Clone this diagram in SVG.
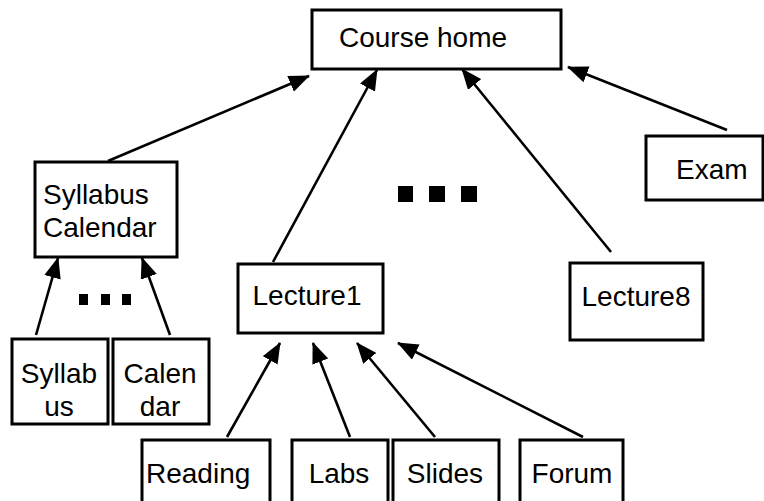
<svg xmlns="http://www.w3.org/2000/svg" width="764" height="501" viewBox="0 0 764 501">
<style>
.box{fill:#fff;stroke:#000;stroke-width:3}
.t{font-family:"Liberation Sans",Arial,sans-serif;font-size:28px;fill:#000}
.m{text-anchor:middle}
.c{stroke:#000;stroke-width:2.6;fill:none;marker-end:url(#ah)}
.dot{fill:#000}
</style>
<defs>
<marker id="ah" viewBox="0 0 21 17" refX="20" refY="8.5" markerWidth="21" markerHeight="17" markerUnits="userSpaceOnUse" orient="auto">
<path d="M0,0 L21,8.5 L0,17 z" fill="#000"/>
</marker>
</defs>
<rect width="764" height="501" fill="#fff"/>
<g id="connectors">
<line class="c" x1="108" y1="161" x2="309" y2="76"/>
<line class="c" x1="273" y1="262" x2="377" y2="70"/>
<line class="c" x1="611" y1="252" x2="462" y2="69"/>
<line class="c" x1="727" y1="130" x2="568" y2="67"/>
<line class="c" x1="36" y1="335" x2="58" y2="258"/>
<line class="c" x1="170" y1="335" x2="142" y2="258"/>
<line class="c" x1="227" y1="437" x2="280" y2="343"/>
<line class="c" x1="350" y1="437" x2="313" y2="343"/>
<line class="c" x1="435" y1="437" x2="357" y2="343"/>
<line class="c" x1="583" y1="437" x2="398" y2="343"/>
</g>
<g id="course-home">
<rect class="box" x="312" y="10" width="249" height="59"/>
<text class="t" x="339" y="47">Course home</text>
</g>
<g id="syllabus-calendar">
<rect class="box" x="35" y="162" width="142" height="95"/>
<text class="t" x="43" y="204">Syllabus</text>
<text class="t" x="43" y="237">Calendar</text>
</g>
<g id="exam">
<rect class="box" x="646" y="136" width="117" height="64"/>
<text class="t" x="676" y="179">Exam</text>
</g>
<g id="lecture1">
<rect class="box" x="238" y="264" width="145" height="69"/>
<text class="t m" x="307" y="305">Lecture1</text>
</g>
<g id="lecture8">
<rect class="box" x="570" y="263" width="133" height="77"/>
<text class="t m" x="636" y="306">Lecture8</text>
</g>
<g id="syllab">
<rect class="box" x="12" y="339" width="96" height="85"/>
<text class="t m" x="59" y="383">Syllab</text>
<text class="t m" x="59" y="416">us</text>
</g>
<g id="calen">
<rect class="box" x="113" y="339" width="96" height="85"/>
<text class="t m" x="160" y="383">Calen</text>
<text class="t m" x="160" y="416">dar</text>
</g>
<g id="reading">
<rect class="box" x="142" y="440" width="128" height="75"/>
<text class="t" x="146" y="483">Reading</text>
</g>
<g id="labs">
<rect class="box" x="292" y="440" width="96" height="75"/>
<text class="t m" x="339" y="483">Labs</text>
</g>
<g id="slides">
<rect class="box" x="393" y="440" width="106" height="75"/>
<text class="t m" x="445" y="483">Slides</text>
</g>
<g id="forum">
<rect class="box" x="520" y="440" width="103" height="75"/>
<text class="t m" x="572" y="483">Forum</text>
</g>
<g id="ellipsis-left">
<rect class="dot" x="79" y="294" width="9" height="11"/>
<rect class="dot" x="101" y="294" width="9" height="11"/>
<rect class="dot" x="122" y="294" width="9" height="11"/>
</g>
<g id="ellipsis-middle">
<rect class="dot" x="398" y="186" width="15" height="16"/>
<rect class="dot" x="429" y="186" width="16" height="16"/>
<rect class="dot" x="461" y="186" width="16" height="16"/>
</g>
</svg>
